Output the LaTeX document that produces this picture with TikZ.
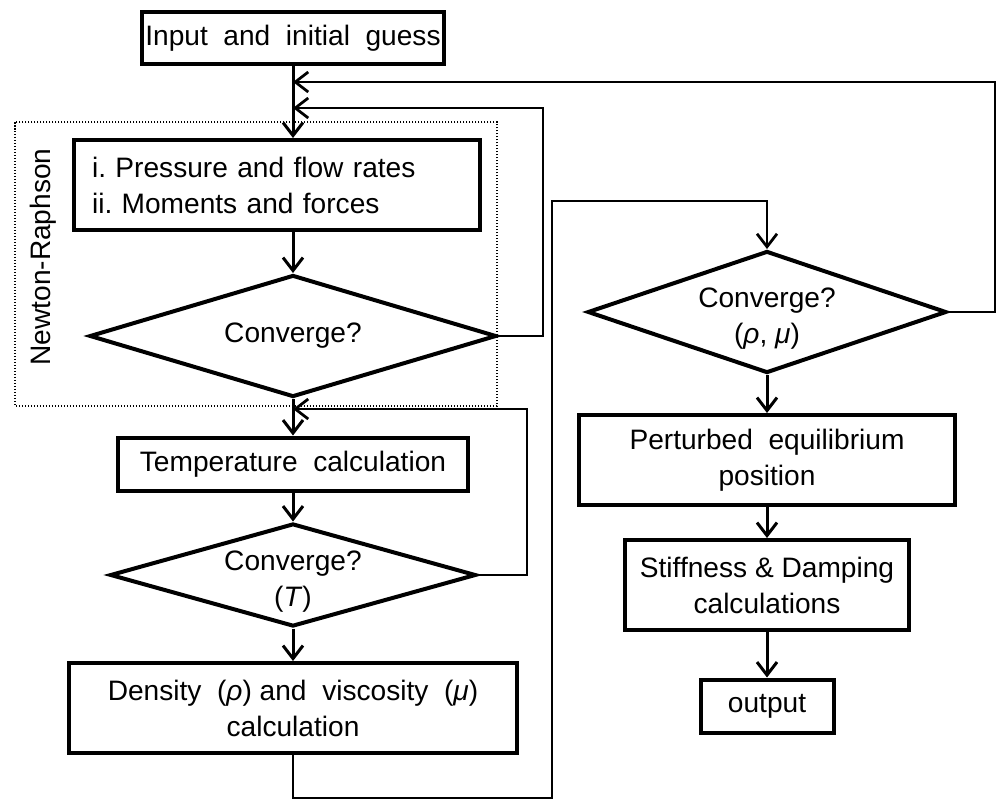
\documentclass[tikz,border=0pt]{standalone}
\usepackage{fontspec}
\setmainfont{Liberation Sans}
\usetikzlibrary{arrows.meta,shapes.geometric}
\tikzset{
  procbox/.style={draw, line width=0.08cm, align=center, inner sep=0pt,
    font=\fontsize{16}{20.5}\selectfont},
  decision/.style={diamond, draw, line width=0.08cm, align=center, inner sep=0pt,
    font=\fontsize{16}{20.5}\selectfont},
  lowtext/.style={inner ysep=-0.12cm},
  arr/.style={-{Straight Barb[length=0.26cm,width=0.4cm]}, line width=0.06cm},
  loopline/.style={line width=0.055cm},
  nrframe/.style={line width=0.03cm, dash pattern=on 0.03cm off 0.03cm}
}
\frenchspacing
\newcommand{\dropline}{\rule{0pt}{0.64cm}}

\begin{document}
\begin{tikzpicture}[x=0.02cm, y=-0.02cm]
    \useasboundingbox (0,0) rectangle (996,801);
    % left column
    \node[procbox, minimum width=6.06cm, minimum height=1.06cm] (input) at (293,38) {Input\ \ and\ \ initial\ \ guess};
    \node[procbox, align=left, inner xsep=0.36cm, text width=7.4cm, minimum height=1.8cm] (nrbox) at (277,185)
      {i. Pressure and flow rates\\ii. Moments and forces};
    \node[decision, aspect=3.34, minimum width=8.14cm, minimum height=2.44cm] (nrconv) at (293,336) {Converge?};
    \node[procbox, minimum width=7.02cm, minimum height=1.06cm] (temp) at (293,464) {Temperature\ \ calculation};
    \node[decision, lowtext, aspect=3.55, minimum width=7.32cm, minimum height=2.06cm] (tconv) at (293,575)
      {\dropline Converge?\\(\textit{T})};
    \node[procbox, minimum width=8.96cm, minimum height=1.8cm] (dens) at (293,708)
      {Density\ \ (\textit{ρ}) and\ \ viscosity\ \ (\textit{μ})\\calculation};
    % right column
    \node[decision, lowtext, aspect=2.94, minimum width=7.18cm, minimum height=2.44cm] (rhoconv) at (767,312)
      {\dropline Converge?\\(\textit{ρ}, \textit{μ})};
    \node[procbox, minimum width=7.54cm, minimum height=1.8cm] (pert) at (767,460) {Perturbed\ \ equilibrium\\position};
    \node[procbox, minimum width=5.7cm, minimum height=1.8cm] (stiff) at (767,585) {Stiffness \& Damping\\calculations};
    \node[procbox, minimum width=2.66cm, minimum height=1.06cm] (out) at (767,706) {output};
    % Newton-Raphson frame
    \draw[nrframe] (15,122) rectangle (497,406);
    \node[rotate=90, font=\fontsize{16}{20.5}\selectfont] (nrlabel) at (43,257) {Newton-Raphson};
    % turning points
    \coordinate (joinrho) at (293,82);
    \coordinate (joinnr) at (293,108);
    \coordinate (joint) at (293,409);
    \coordinate (rhoback) at (995,82);
    \coordinate (nrback) at (543,108);
    \coordinate (tback) at (527,409);
    \coordinate (bottomrun) at (552,798);
    \coordinate (toprun) at (552,201);
    % main flow
    \draw[arr] (input) -- (input |- nrbox.north);
    \draw[arr] (nrconv.north |- nrbox.south) -- (nrconv.north);
    \draw[arr] (nrconv.south) -- (temp.north);
    \draw[arr] (temp.south) -- (tconv.north);
    \draw[arr] (tconv.south) -- (dens.north);
    \draw[arr, line width=0.055cm] (dens.south) |- (bottomrun) -- (toprun) -| (rhoconv.north);
    \draw[arr] (rhoconv.south) -- (pert.north);
    \draw[arr] (pert.south) -- (stiff.north);
    \draw[arr] (stiff.south) -- (out.north);
    % loops back
    \draw[arr, loopline] (rhoconv.east) -| (rhoback) -- (joinrho);
    \draw[arr, loopline] (nrconv.east) -| (nrback) -- (joinnr);
    \draw[arr, loopline] (tconv.east) -| (tback) -- (joint);
  \end{tikzpicture}
\end{document}
